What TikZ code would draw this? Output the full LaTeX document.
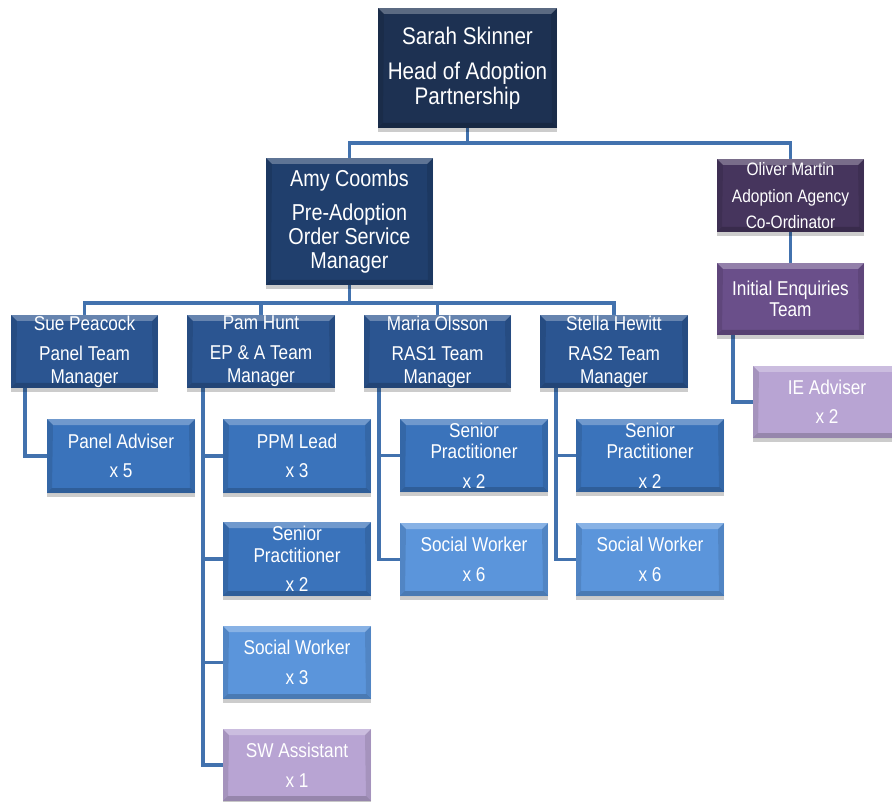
\documentclass[tikz,border=0pt]{standalone}
\usepackage{fontspec}
\setmainfont{Liberation Sans}[FakeStretch=0.86]
\usetikzlibrary{shadows,backgrounds}
\definecolor{cSarah}{HTML}{1D3152}
\definecolor{cAmy}{HTML}{203F6D}
\definecolor{cMgr}{HTML}{2B5591}
\definecolor{cMid}{HTML}{3A73BB}
\definecolor{cLight}{HTML}{5B95DB}
\definecolor{cOliver}{HTML}{46355D}
\definecolor{cIE}{HTML}{6A4F8A}
\definecolor{cLav}{HTML}{B8A4D3}
\definecolor{cLine}{HTML}{4272AE}
\tikzset{
  bevel/.style={path picture={
    \fill[white,opacity=0.28] (path picture bounding box.north west) -- (path picture bounding box.north east)
      -- ([shift={(-6pt,-6pt)}]path picture bounding box.north east) -- ([shift={(6pt,-6pt)}]path picture bounding box.north west) -- cycle;
    \fill[black,opacity=0.18] (path picture bounding box.south west) -- (path picture bounding box.south east)
      -- ([shift={(-5pt,5pt)}]path picture bounding box.south east) -- ([shift={(5pt,5pt)}]path picture bounding box.south west) -- cycle;
    \fill[black,opacity=0.10] (path picture bounding box.north west) -- ([shift={(6pt,-6pt)}]path picture bounding box.north west)
      -- ([shift={(5pt,5pt)}]path picture bounding box.south west) -- (path picture bounding box.south west) -- cycle;
    \fill[black,opacity=0.10] (path picture bounding box.north east) -- ([shift={(-6pt,-6pt)}]path picture bounding box.north east)
      -- ([shift={(-5pt,5pt)}]path picture bounding box.south east) -- (path picture bounding box.south east) -- cycle;
  }},
  box/.style={rectangle, fill=#1, text=white, align=center, inner sep=0pt,
    minimum width=148pt, minimum height=73pt, bevel,
    drop shadow={shadow xshift=0pt, shadow yshift=-4pt, opacity=0.2, fill=black}},
  ftop/.style={font=\fontsize{24}{25}\selectfont},
  famy/.style={font=\fontsize{23}{24}\selectfont},
  fmgr/.style={font=\fontsize{20}{23}\selectfont},
  fsub/.style={font=\fontsize{20}{21.5}\selectfont},
  folv/.style={font=\fontsize{18}{20}\selectfont},
  conn/.style={draw=cLine, line width=3.5pt},
}
\begin{document}
\begin{tikzpicture}[x=1pt,y=-1pt]
\useasboundingbox (0,0) rectangle (892,802);
\clip (0,0) rectangle (892,802);

% top levels
\node[box=cSarah, ftop, minimum width=179pt, minimum height=120pt] (sarah) at (467.5,68)
  {Sarah Skinner\\[10pt]Head of Adoption\\Partnership};
\node[box=cAmy, famy, minimum width=167pt, minimum height=127pt] (amy) at (349.5,221.5)
  {Amy Coombs\\[10pt]Pre-Adoption\\Order Service\\Manager};
\node[box=cOliver, folv, minimum width=147pt, minimum height=73pt] (oliver) at (790.5,195.5)
  {Oliver Martin\\[7pt]Adoption Agency\\[6pt]Co-Ordinator};
\node[box=cIE, fsub, minimum width=147pt, minimum height=72pt] (ieteam) at (790.5,299)
  {Initial Enquiries\\Team};
\node[box=cLav, fsub, minimum height=72pt] (ieadv) at (827,402)
  {IE Adviser\\[8pt]x 2};

% managers
\node[box=cMgr, fmgr, minimum width=147pt] (sue) at (84.5,351.5) {Sue Peacock\\[7pt]Panel Team\\Manager};
\node[box=cMgr, fmgr] (pam) at (261,351.5) {Pam Hunt\\[7pt]EP \& A Team\\Manager};
\node[box=cMgr, fmgr, minimum width=147pt] (maria) at (437.5,351.5) {Maria Olsson\\[7pt]RAS1 Team\\Manager};
\node[box=cMgr, fmgr] (stella) at (614,351.5) {Stella Hewitt\\[7pt]RAS2 Team\\Manager};

% staff
\node[box=cMid, fsub, minimum height=74pt] (paneladv) at (121,456) {Panel Adviser\\[8pt]x 5};
\node[box=cMid, fsub, minimum height=74pt] (ppm) at (297,456) {PPM Lead\\[8pt]x 3};
\node[box=cMid, fsub, minimum height=74pt] (pamsp) at (297,559) {Senior\\Practitioner\\[8pt]x 2};
\node[box=cLight, fsub] (pamsw) at (297,662.5) {Social Worker\\[8pt]x 3};
\node[box=cLav, fsub, minimum height=72pt] (swa) at (297,765) {SW Assistant\\[8pt]x 1};
\node[box=cMid, fsub] (mariasp) at (474,455.5) {Senior\\Practitioner\\[8pt]x 2};
\node[box=cLight, fsub] (mariasw) at (474,559.5) {Social Worker\\[8pt]x 6};
\node[box=cMid, fsub] (stellasp) at (650,455.5) {Senior\\Practitioner\\[8pt]x 2};
\node[box=cLight, fsub] (stellasw) at (650,559.5) {Social Worker\\[8pt]x 6};

\begin{pgfonlayer}{background}
  \coordinate (j1) at (467.5,143);
  \coordinate (j2) at (349.5,303);
  \draw[conn] (sarah.south) -- (j1);
  \draw[conn] (amy.north) |- (j1) -| (oliver.north);
  \draw[conn] (oliver.south) -- (ieteam.north);
  \draw[conn] (amy.south) -- (j2);
  \draw[conn] (sue.north) |- (j2) -| (stella.north);
  \draw[conn] (pam.north) -- (pam.north |- j2);
  \draw[conn] (maria.north) -- (maria.north |- j2);

  \coordinate (iel) at ([xshift=16pt]ieteam.south west);
  \draw[conn] (iel) |- (ieadv.west);

  \coordinate (sl) at ([xshift=14pt]sue.south west);
  \draw[conn] (sl) |- (paneladv.west);

  \coordinate (pl) at ([xshift=16pt]pam.south west);
  \draw[conn] (pl) |- (swa.west);
  \draw[conn] (ppm.west) -- (ppm.west -| pl);
  \draw[conn] (pamsp.west) -- (pamsp.west -| pl);
  \draw[conn] (pamsw.west) -- (pamsw.west -| pl);

  \coordinate (ml) at ([xshift=15pt]maria.south west);
  \draw[conn] (ml) |- (mariasw.west);
  \draw[conn] (mariasp.west) -- (mariasp.west -| ml);

  \coordinate (tl) at ([xshift=16pt]stella.south west);
  \draw[conn] (tl) |- (stellasw.west);
  \draw[conn] (stellasp.west) -- (stellasp.west -| tl);
\end{pgfonlayer}
\end{tikzpicture}
\end{document}
